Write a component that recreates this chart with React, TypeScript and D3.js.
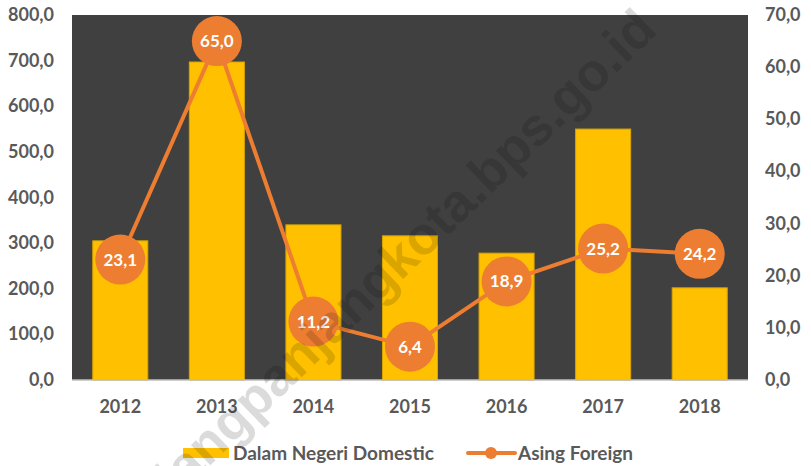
import React from "react";
import * as d3 from "d3";

const years = ["2012", "2013", "2014", "2015", "2016", "2017", "2018"];
const domestic = [305, 697, 340, 316, 278, 550, 202];
const foreign = [23.1, 65.0, 11.2, 6.4, 18.9, 25.2, 24.2];
const leftTicks = [0, 100, 200, 300, 400, 500, 600, 700, 800];
const rightTicks = [0, 10, 20, 30, 40, 50, 60, 70];
const seriesNames = ["Dalam Negeri Domestic", "Asing Foreign"];
const watermark = "padangpanjangkota.bps.go.id";

const W = 811;
const H = 466;
const M = { left: 72, right: 63, top: 15, bottom: 86 };
const FONT = "Lato, 'Open Sans', sans-serif";
const fmt = (v: number) => v.toFixed(1).replace(".", ",");

export default function App() {
  const x = d3.scaleBand().domain(years).range([M.left, W - M.right]).paddingInner(0.43).paddingOuter(0.215);
  const yL = d3.scaleLinear().domain([0, 800]).range([H - M.bottom, M.top]);
  const yR = d3.scaleLinear().domain([0, 70]).range([H - M.bottom, M.top]);
  const cx = (d: string) => (x(d) as number) + x.bandwidth() / 2;
  const line = d3
    .line<number>()
    .x((_, i) => cx(years[i]))
    .y((d) => yR(d));
  const plotL = M.left;
  const plotR = W - M.right;
  const plotB = H - M.bottom;

  return (
    <svg width={W} height={H} style={{ position: "absolute", left: 0, top: 0 }} fontFamily={FONT}>
      <rect x={0} y={0} width={W} height={H} fill="#fff" />
      <rect x={plotL} y={M.top} width={plotR - plotL} height={plotB - M.top} fill="#404040" />
      {years.map((yr, i) => (
        <rect
          key={yr}
          x={x(yr)}
          y={yL(domestic[i])}
          width={x.bandwidth()}
          height={plotB - yL(domestic[i])}
          fill="#FFC000"
          stroke="#D9A400"
          strokeWidth={1}
        />
      ))}
      <line x1={plotL} x2={plotR} y1={plotB} y2={plotB} stroke="#BFBFBF" strokeWidth={1.5} />
      {leftTicks.map((t) => (
        <text key={t} x={54} y={yL(t) + 6} textAnchor="end" fontSize={18} fontWeight={700} fill="#595959">
          {fmt(t)}
        </text>
      ))}
      {rightTicks.map((t) => (
        <text key={t} x={765} y={yR(t) + 6} textAnchor="start" fontSize={18} fontWeight={700} fill="#595959">
          {fmt(t)}
        </text>
      ))}
      {years.map((yr) => (
        <text key={yr} x={cx(yr)} y={413} textAnchor="middle" fontSize={18} fontWeight={700} fill="#595959">
          {yr}
        </text>
      ))}
      <path d={line(foreign) || ""} fill="none" stroke="#ED7D31" strokeWidth={4} strokeLinejoin="round" />
      {foreign.map((v, i) => (
        <g key={i}>
          <circle cx={cx(years[i])} cy={yR(v)} r={25} fill="#ED7D31" />
          <text x={cx(years[i])} y={yR(v) + 6} textAnchor="middle" fontSize={17} fontWeight={700} fill="#fff">
            {fmt(v)}
          </text>
        </g>
      ))}
      <g>
        <rect x={183} y={448} width={46} height={10} fill="#FFC000" />
        <text x={233} y={460} fontSize={19} fontWeight={700} fill="#595959">
          {seriesNames[0]}
        </text>
        <line x1={468} x2={515} y1={453} y2={453} stroke="#ED7D31" strokeWidth={4} strokeLinecap="round" />
        <circle cx={491} cy={453} r={6} fill="#ED7D31" />
        <text x={518} y={460} fontSize={19} fontWeight={700} fill="#595959">
          {seriesNames[1]}
        </text>
      </g>
      <text
        x={0}
        y={0}
        transform="translate(659,32) rotate(-44)"
        textAnchor="end"
        fontFamily="'Liberation Sans', Arial, sans-serif"
        fontWeight={700}
        fontSize={53}
        fill="#000"
        fillOpacity={0.14}
      >
        {watermark}
      </text>
    </svg>
  );
}
